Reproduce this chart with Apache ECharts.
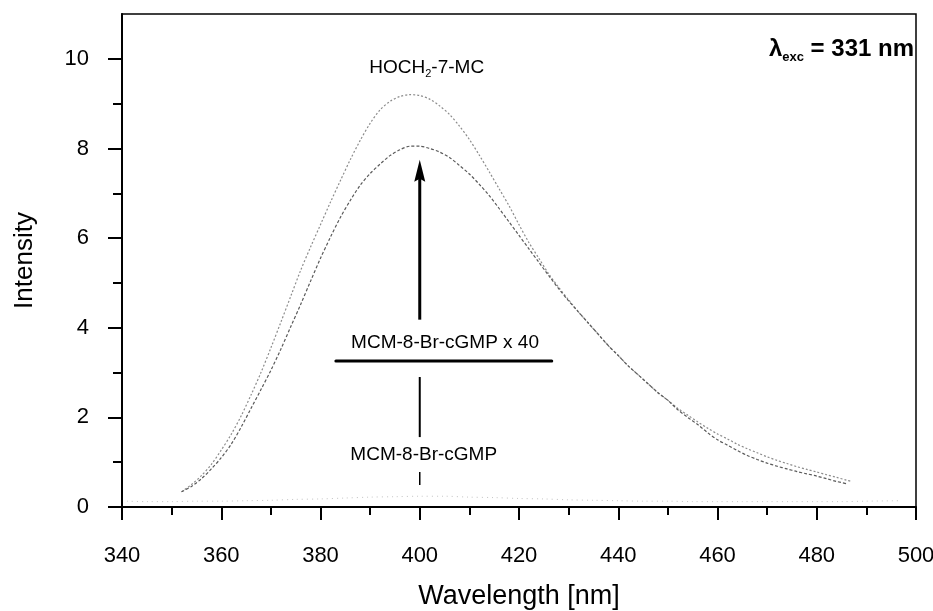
<!DOCTYPE html>
<html><head><meta charset="utf-8">
<script src="https://cdn.jsdelivr.net/npm/echarts@6/dist/echarts.min.js"></script>
<style>html,body{margin:0;padding:0;background:#fff}#c{width:933px;height:611px}</style>
</head><body><div id="c"></div>
<script>
// ---- Data ----
const hochWavelength = [352,354,356,358,360,362,364,366,368,370,372,374,376,378,380,382,384,386,388,390,392,394,396,398,400,402,404,406,408,410,412,414,416,418,420,422,424,426,428,430,432,434,436,438,440,442,444,446,448,450,452,454,456,458,460,462,464,466,468,470,472,474,476,478,480,482,484,486,487];
const hochIntensity  = [0.34,0.50,0.70,0.95,1.27,1.62,2.03,2.50,3.00,3.55,4.12,4.70,5.28,5.80,6.30,6.80,7.28,7.75,8.18,8.56,8.86,9.05,9.16,9.20,9.18,9.10,8.95,8.76,8.50,8.20,7.85,7.48,7.10,6.72,6.30,5.90,5.55,5.20,4.90,4.62,4.35,4.10,3.85,3.60,3.38,3.15,2.95,2.75,2.55,2.38,2.20,2.05,1.90,1.76,1.63,1.52,1.40,1.30,1.21,1.12,1.04,0.97,0.90,0.84,0.78,0.72,0.66,0.60,0.57];

const mcm40Wavelength = [352,354,356,358,360,362,364,366,368,370,372,374,376,378,380,382,384,386,388,390,392,394,396,398,400,402,404,406,408,410,412,414,416,418,420,422,424,426,428,430,432,434,436,438,440,442,444,446,448,450,452,454,456,458,460,462,464,466,468,470,472,474,476,478,480,482,484,486];
const mcm40Intensity  = [0.34,0.46,0.63,0.85,1.10,1.40,1.78,2.20,2.62,3.05,3.52,4.02,4.52,5.04,5.55,6.02,6.46,6.84,7.18,7.44,7.65,7.84,7.97,8.05,8.05,8.00,7.92,7.80,7.62,7.43,7.20,6.95,6.66,6.36,6.06,5.76,5.46,5.16,4.87,4.60,4.35,4.10,3.85,3.60,3.38,3.15,2.95,2.75,2.55,2.38,2.17,2.00,1.84,1.66,1.50,1.38,1.26,1.15,1.06,0.98,0.91,0.85,0.79,0.74,0.69,0.63,0.57,0.52];

const mcmWavelength = [341,345,350,355,360,365,370,375,380,385,390,395,400,405,410,415,420,425,430,435,440,445,450,455,460,465,470,475,480,485,490,497];
const mcmIntensity  = [0.13,0.12,0.12,0.13,0.13,0.14,0.15,0.17,0.18,0.20,0.22,0.23,0.24,0.24,0.22,0.21,0.19,0.18,0.16,0.15,0.14,0.13,0.13,0.12,0.12,0.12,0.12,0.12,0.12,0.12,0.13,0.14];

const xTicks = [340,360,380,400,420,440,460,480,500];
const yTicks = [0,2,4,6,8,10];

const FONT = "'Liberation Sans', Arial, Helvetica, sans-serif";
const pairs = (xs, ys) => xs.map((x, i) => [x, ys[i]]);

const chart = echarts.init(document.getElementById('c'), null, {renderer: 'canvas'});
const option = {
  backgroundColor: '#ffffff',
  animation: false,
  grid: {left: 122, right: 17, top: 14, bottom: 104, outerBoundsMode: 'none', containLabel: false,
         show: true, borderColor: '#000', borderWidth: 1.5, backgroundColor: 'transparent'},
  xAxis: {
    type: 'value', min: 340, max: 500, interval: 20,
    name: 'Wavelength [nm]', nameLocation: 'middle', nameGap: 76,
    nameTextStyle: {fontFamily: FONT, fontSize: 27, color: '#000'},
    axisLine: {show: true, lineStyle: {color: '#000', width: 2}},
    axisTick: {show: true, inside: false, length: 13, lineStyle: {color: '#000', width: 2}, customValues: xTicks},
    minorTick: {show: true, splitNumber: 2, length: 8, lineStyle: {color: '#000', width: 2}},
    axisLabel: {fontFamily: FONT, fontSize: 22, color: '#000', margin: 38, customValues: xTicks},
    splitLine: {show: false}
  },
  yAxis: {
    type: 'value', min: 0, max: 11, interval: 2,
    name: 'Intensity', nameLocation: 'middle', nameGap: 84, nameRotate: 90,
    nameTextStyle: {fontFamily: FONT, fontSize: 26, color: '#000'},
    axisLine: {show: true, lineStyle: {color: '#000', width: 2}},
    axisTick: {show: true, inside: false, length: 14, lineStyle: {color: '#000', width: 2}, customValues: yTicks},
    minorTick: {show: true, splitNumber: 2, length: 9, lineStyle: {color: '#000', width: 2}},
    axisLabel: {fontFamily: FONT, fontSize: 22, color: '#000', margin: 33, customValues: yTicks},
    splitLine: {show: false}
  },
  series: [
    {name: 'HOCH2-7-MC', type: 'line', data: pairs(hochWavelength, hochIntensity), showSymbol: false, smooth: 0.3,
     lineStyle: {color: '#8c8c8c', width: 1.2, type: [2, 2]}},
    {name: 'MCM-8-Br-cGMP x 40', type: 'line', data: pairs(mcm40Wavelength, mcm40Intensity), showSymbol: false, smooth: 0.3,
     lineStyle: {color: '#5a5a5a', width: 1.2, type: [3, 2]}},
    {name: 'MCM-8-Br-cGMP', type: 'line', data: pairs(mcmWavelength, mcmIntensity), showSymbol: false, smooth: 0.3,
     lineStyle: {color: '#c4c4c4', width: 1, type: [1, 4]}}
  ]
};
chart.setOption(option);

// ---- Annotations placed in data coordinates ----
const P = (x, y) => chart.convertToPixel({gridIndex: 0}, [x, y]);
const arrowBase = P(400, 4.18), arrowTip = P(400, 7.75);
const under0 = P(383.1, 3.26), under1 = P(426.6, 3.26);
const v0 = P(400, 2.90), v1 = P(400, 1.56);
const s0 = P(400, 0.78), s1 = P(400, 0.49);
const tHoch = P(401.4, 9.81), tX40 = P(405.1, 3.66), tMcm = P(400.8, 1.16), tLam = P(499.6, 10.22);

chart.setOption({
  graphic: [
    {type: 'line', shape: {x1: arrowBase[0], y1: arrowBase[1], x2: arrowTip[0], y2: arrowTip[1] + 18}, style: {stroke: '#000', lineWidth: 3}},
    {type: 'polygon', shape: {points: [
      [arrowTip[0], arrowTip[1]],
      [arrowTip[0] + 5.5, arrowTip[1] + 22],
      [arrowTip[0], arrowTip[1] + 19],
      [arrowTip[0] - 5.5, arrowTip[1] + 22]
    ]}, style: {fill: '#000'}},
    {type: 'line', shape: {x1: under0[0], y1: under0[1], x2: under1[0], y2: under1[1]}, style: {stroke: '#000', lineWidth: 3, lineCap: 'round'}},
    {type: 'line', shape: {x1: v0[0], y1: v0[1], x2: v1[0], y2: v1[1]}, style: {stroke: '#000', lineWidth: 2}},
    {type: 'line', shape: {x1: s0[0], y1: s0[1], x2: s1[0], y2: s1[1]}, style: {stroke: '#000', lineWidth: 1.5}},
    {type: 'text', x: tHoch[0], y: tHoch[1], style: {
      text: '{a|HOCH}{s|2}{a|-7-MC}', align: 'center', verticalAlign: 'middle',
      rich: {a: {fontFamily: FONT, fontSize: 19, color: '#000', lineHeight: 24},
             s: {fontFamily: FONT, fontSize: 11, color: '#000', verticalAlign: 'bottom', lineHeight: 7}}}},
    {type: 'text', x: tX40[0], y: tX40[1], style: {text: 'MCM-8-Br-cGMP x 40', align: 'center', verticalAlign: 'middle', fontFamily: FONT, fontSize: 19, fill: '#000'}},
    {type: 'text', x: tMcm[0], y: tMcm[1], style: {text: 'MCM-8-Br-cGMP', align: 'center', verticalAlign: 'middle', fontFamily: FONT, fontSize: 19, fill: '#000'}},
    {type: 'text', x: tLam[0], y: tLam[1], style: {
      text: '{a|λ}{s|exc}{a| = 331 nm}', align: 'right', verticalAlign: 'middle',
      rich: {a: {fontFamily: FONT, fontSize: 24, fontWeight: 'bold', color: '#000', lineHeight: 30},
             s: {fontFamily: FONT, fontSize: 13, fontWeight: 'bold', color: '#000', verticalAlign: 'bottom', lineHeight: 6}}}}
  ]
});
</script>
</body></html>
